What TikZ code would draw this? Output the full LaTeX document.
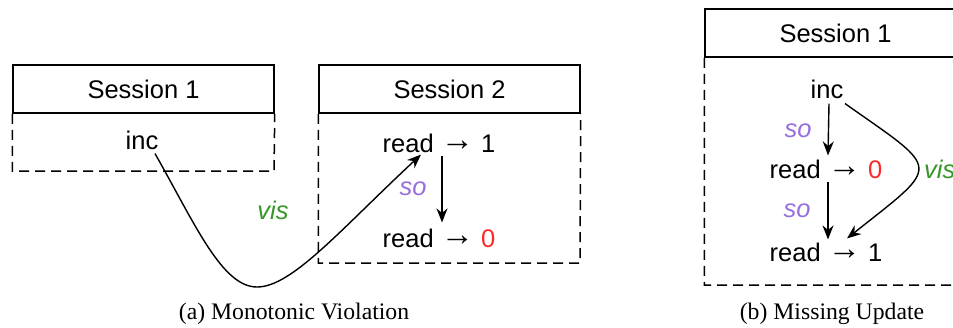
\documentclass[tikz,border=0pt]{standalone}
\usepackage{fontspec}
\setmainfont{Liberation Serif}
\setsansfont{Liberation Sans}
\usetikzlibrary{arrows.meta}
\definecolor{socol}{RGB}{150,110,225}
\definecolor{viscol}{RGB}{55,150,40}
\definecolor{zerocol}{RGB}{255,40,40}
\newcommand{\rarr}{\raisebox{1.5pt}{\scalebox{1.3}{→}}}
\begin{document}
\begin{tikzpicture}[x=1pt,y=-1pt,
  hdr/.style={draw, line width=1.5pt, minimum width=261pt, minimum height=48pt, inner sep=0pt, font=\sffamily\fontsize{25.5}{30}\selectfont},
  lbl/.style={font=\sffamily\fontsize{25.5}{30}\selectfont, inner sep=0pt},
  body/.style={draw, dash pattern=on 10pt off 6pt, line width=1.5pt},
  arr/.style={-{Stealth[length=14pt,width=11pt,inset=4.5pt]}, line width=1.4pt},
  solbl/.style={font=\sffamily\itshape\fontsize{25.5}{30}\selectfont, text=socol, inner sep=0pt},
  vislbl/.style={font=\sffamily\itshape\fontsize{25.5}{30}\selectfont, text=viscol, inner sep=0pt},
  captext/.style={font=\fontsize{23.7}{28}\selectfont, inner sep=0pt}]
\useasboundingbox (0,0) rectangle (953,327);
\clip (0,0) rectangle (953,327);
% (a)
\node[hdr] (ha) at (143.5,89) {Session 1};
\coordinate (ba) at (274,171);
\draw[body] (ha.south west) |- (ba) -- (ha.south east);
\node[hdr] (hb) at (449.5,89) {Session 2};
\coordinate (bb) at (580,263);
\draw[body] (hb.south west) |- (bb) -- (hb.south east);
\node[lbl] (inca) at (142,140) {inc};
\node[lbl] (ra1) at (439,143) {read \rarr{} 1};
\node[lbl] (ra0) at (439,238) {read \rarr{} \textcolor{zerocol}{0}};
\draw[arr] ([xshift=3pt,yshift=-3pt]ra1.south) -- ([xshift=3pt,yshift=6pt]ra0.north);
\node[solbl] (soa) at (413,189) {so};
\coordinate (bot) at (257,287);
\draw[arr] ([xshift=13pt,yshift=-4pt]inca.south) .. controls (195,224) and (222,287) .. (bot) .. controls (292,287) and (340,230) .. ([xshift=-18pt,yshift=-2pt]ra1.south);
\node[vislbl] (visa) at (273,210) {vis};
\node[captext] (capa) at (294,314) {(a) Monotonic Violation};
% (b)
\node[hdr] (hc) at (835.5,33) {Session 1};
\coordinate (bc) at (966,285);
\draw[body] (hc.south west) |- (bc) -- (hc.south east);
\node[lbl] (incb) at (827,89) {inc};
\node[lbl] (rb0) at (826,169) {read \rarr{} \textcolor{zerocol}{0}};
\node[lbl] (rb1) at (826,252) {read \rarr{} 1};
\draw[arr] ([xshift=2pt,yshift=-5pt]incb.south) -- ([xshift=2pt,yshift=4pt]rb0.north);
\draw[arr] ([xshift=2pt,yshift=-3pt]rb0.south) -- ([xshift=2pt,yshift=3pt]rb1.north);
\node[solbl] (sob1) at (798,131) {so};
\node[solbl] (sob2) at (797,211) {so};
\draw[arr] ([xshift=18pt,yshift=-5pt]incb.south) .. controls (942,172) and (942,163) .. ([xshift=21pt,yshift=4pt]rb1.north);
\node[vislbl, anchor=west] (visb) at (924,169) {vis};
\node[captext] (capb) at (832,314) {(b) Missing Update};
\end{tikzpicture}
\end{document}
